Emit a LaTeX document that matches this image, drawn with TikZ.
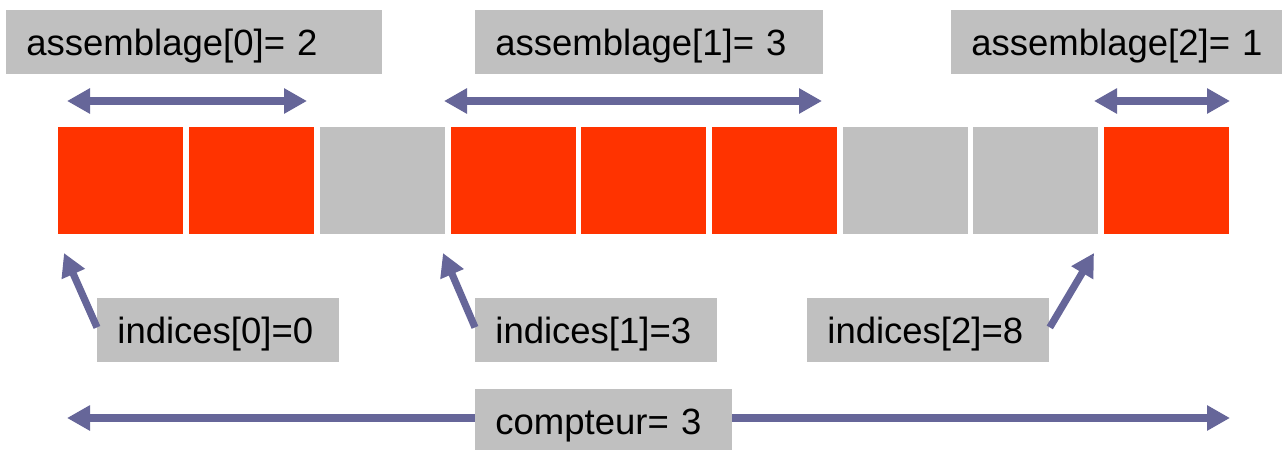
\documentclass[tikz,border=0pt]{standalone}
\usepackage{fontspec}
\setmainfont{Liberation Sans}
\usetikzlibrary{arrows.meta}
\definecolor{cellred}{HTML}{FF3300}
\definecolor{cellgray}{HTML}{C0C0C0}
\definecolor{arrowblue}{HTML}{666699}
\begin{document}
\begin{tikzpicture}[x=0.5pt,y=-0.5pt,
  cellbox/.style={anchor=north west, minimum width=62.5pt, minimum height=53.5pt,
    inner sep=0pt, draw=none},
  tagbox/.style={anchor=north west, fill=cellgray, inner xsep=10pt, inner ysep=0pt,
    minimum height=32pt, text height=22.5pt, text depth=9.5pt, align=left,
    font=\fontsize{18.25}{22}\selectfont},
  tip/.tip={Triangle[length=11.5pt,width=12pt]},
  spanarrow/.style={draw=arrowblue, line width=3.6pt, tip-tip},
  pointarrow/.style={draw=arrowblue, line width=3.6pt, -tip}]

\useasboundingbox (0,0) rectangle (1282,450);

% the nine cells of the array: occupied (red) and free (grey)
\foreach \c [count=\i from 0] in {cellred,cellred,cellgray,cellred,cellred,cellred,cellgray,cellgray,cellred}
  \node[cellbox, fill=\c] (c\i) at ({58+130.7*\i},127) {};

% sizes of the assemblies
\node[tagbox, text width=168pt] (a0) at (6,10)   {\mbox{assemblage[0]= 2}};
\node[tagbox, text width=154pt] (a1) at (475,10) {\mbox{assemblage[1]= 3}};
\node[tagbox, text width=145.5pt] (a2) at (951,10) {\mbox{assemblage[2]= 1}};

\coordinate (a0l) at (67,101);   \coordinate (a0r) at (307,101);
\coordinate (a1l) at (444,101);  \coordinate (a1r) at (822,101);
\coordinate (a2l) at (1094,101); \coordinate (a2r) at (1230,101);
\draw[spanarrow] (a0l) -- (a0r);
\draw[spanarrow] (a1l) -- (a1r);
\draw[spanarrow] (a2l) -- (a2r);

% start indices of the assemblies
\node[tagbox, text width=101pt] (i0) at (97,298)  {indices[0]=0};
\node[tagbox, text width=101pt] (i1) at (475,298) {indices[1]=3};
\node[tagbox, text width=101pt] (i2) at (807,298) {indices[2]=8};

\coordinate (p0) at (64,253);
\coordinate (p1) at (443,253);
\coordinate (p2) at (1094,253);
\draw[pointarrow] ([yshift=1.5pt]i0.west) -- (p0);
\draw[pointarrow] ([yshift=1.5pt]i1.west) -- (p1);
\draw[pointarrow] ([yshift=1.5pt]i2.east) -- (p2);

% total number of assemblies
\coordinate (kl) at (67,418);
\coordinate (kr) at (1230,418);
\draw[spanarrow] (kl) -- (kr);
\node[tagbox, text width=108.5pt, minimum height=30.5pt, text depth=8pt] (k) at (475,389) {\mbox{compteur= 3}};
\end{tikzpicture}
\end{document}
